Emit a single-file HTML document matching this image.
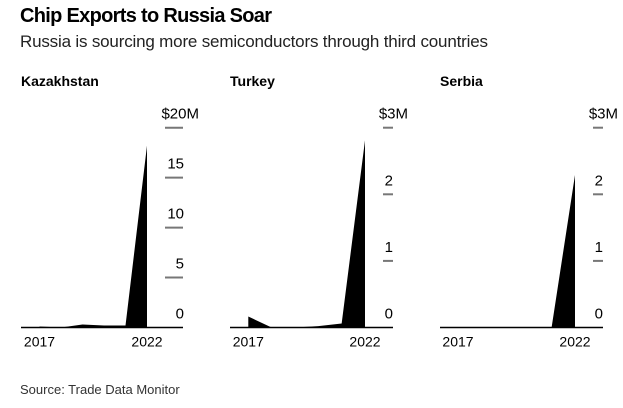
<!DOCTYPE html>
<html><head><meta charset="utf-8"><style>
body{margin:0;background:#fff;width:623px;height:408px;overflow:hidden;font-family:"Liberation Sans",Arial,sans-serif}
svg{position:absolute;left:0;top:0}
</style></head><body>
<svg id="c" width="623" height="408">
<text x="20" y="22" font-size="20" font-weight="bold" fill="#000" textLength="252">Chip Exports to Russia Soar</text>
<text x="20" y="47" font-size="17" fill="#222" textLength="468">Russia is sourcing more semiconductors through third countries</text>
<text x="20" y="394" font-size="13" fill="#333">Source: Trade Data Monitor</text>
</svg>
<script>
const years=[2017,2018,2019,2020,2021,2022];
const panelNames=["Kazakhstan","Turkey","Serbia"];
const kazValues=[0.1,0,0.3,0.2,0.2,18.2];
const turValues=[0.165,0,0,0.02,0.06,2.81];
const serValues=[0,0,0,0,0,2.29];
const kazTicks=[0,5,10,15,20];
const kazTickLabels=["0","5","10","15","$20M"];
const otherTicks=[0,1,2,3];
const otherTickLabels=["0","1","2","$3M"];
const xLabels=["2017","2022"];

const svg=document.getElementById('c');
const NS='http://www.w3.org/2000/svg';
function mk(t,a){const e=document.createElementNS(NS,t);for(const k in a)e.setAttribute(k,a[k]);svg.appendChild(e);return e;}
const panels=[
 {name:panelNames[0],vals:kazValues,ticks:kazTicks,labels:kazTickLabels,max:20,x0:39.5,x1:147,bl:21,tk0:165,tk1:183,lblR:199,numR:184},
 {name:panelNames[1],vals:turValues,ticks:otherTicks,labels:otherTickLabels,max:3,x0:248.3,x1:365,bl:230,tk0:383,tk1:393,lblR:408,numR:393},
 {name:panelNames[2],vals:serValues,ticks:otherTicks,labels:otherTickLabels,max:3,x0:458,x1:575,bl:440,tk0:593,tk1:603,lblR:618,numR:603}
];
const yBase=327.5,yTop=127.7;
panels.forEach((p,pi)=>{
 const xs=i=>p.x0+(p.x1-p.x0)*(years[i]-years[0])/(years[years.length-1]-years[0]);
 const ys=v=>yBase-(yBase-yTop)*v/p.max;
 const t=mk('text',{x:p.bl,y:86,'font-size':14,'font-weight':'bold',fill:'#000'});t.textContent=p.name;
 
 
 p.ticks.forEach((v,i)=>{
  const y=ys(v);
  if(v!==0){const l=mk('line',{x1:p.tk0,x2:p.tk1,y1:y,y2:y,stroke:'#777','stroke-width':2});
   
   }
  const last=i===p.ticks.length-1;
  const tx=mk('text',{x:last?p.lblR:p.numR,y:y-9,'font-size':15,fill:'#000','text-anchor':'end'});
  tx.textContent=p.labels[i];
  
  
 });
 let d='M'+xs(0)+','+yBase;
 p.vals.forEach((v,i)=>{d+=' L'+xs(i)+','+ys(v);});
 d+=' L'+xs(p.vals.length-1)+','+yBase+' Z';
 const a=mk('path',{d:d,fill:'#000'});
 
 
 const b=mk('line',{x1:p.bl,x2:p.tk1,y1:yBase,y2:yBase,stroke:'#000','stroke-width':1.5});
 
 
 [0,years.length-1].forEach((i,k)=>{
  const tx=mk('text',{x:xs(i),y:yBase+19,'font-size':14,fill:'#000','text-anchor':'middle'});
  tx.textContent=xLabels[k];
  
  
 });
});
</script>
</body></html>
